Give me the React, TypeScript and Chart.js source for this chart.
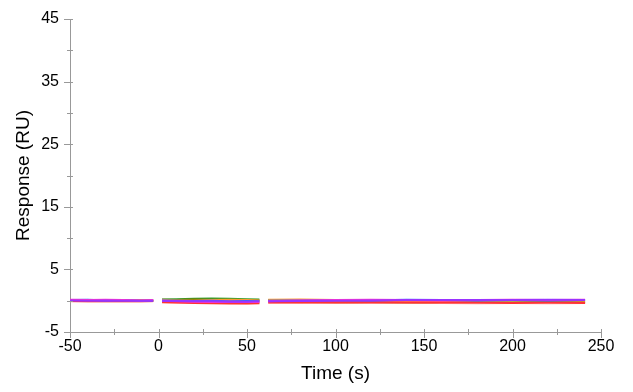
import React, { useEffect, useRef } from "react";
import { Chart, registerables } from "chart.js";

Chart.register(...registerables);

const times = [-50, -40, -30, -20, -10, -3, 0, 2, 10, 20, 30, 40, 50, 57, 60, 62, 80, 100, 120, 140, 160, 180, 200, 220, 241];

const green = [0.05, 0.1, 0.0, 0.05, 0.0, 0.05, null, 0.2, 0.25, 0.3, 0.35, 0.3, 0.25, 0.2, null, 0.1, 0.0, -0.1, -0.15, -0.2, -0.2, -0.25, -0.25, -0.2, -0.1];
const olive = [0.0, 0.0, -0.05, 0.0, -0.05, 0.0, null, 0.15, 0.1, 0.2, 0.15, 0.1, 0.05, 0.05, null, -0.1, -0.2, -0.25, -0.3, -0.3, -0.35, -0.35, -0.35, -0.3, -0.3];
const orange = [0.1, 0.05, 0.1, 0.05, 0.1, 0.05, null, 0.1, 0.05, 0.0, 0.1, 0.15, 0.1, 0.05, null, 0.15, 0.2, 0.1, 0.0, -0.1, -0.2, -0.25, -0.3, -0.3, -0.25];
const salmon = [-0.1, -0.05, -0.1, -0.1, -0.05, -0.1, null, -0.2, -0.3, -0.3, -0.35, -0.35, -0.4, -0.35, null, -0.3, -0.35, -0.3, -0.35, -0.3, -0.35, -0.4, -0.35, -0.4, -0.35];
const red = [-0.05, -0.1, -0.05, -0.1, -0.1, -0.05, null, -0.25, -0.3, -0.35, -0.4, -0.45, -0.45, -0.4, null, -0.3, -0.25, -0.3, -0.25, -0.3, -0.3, -0.3, -0.35, -0.3, -0.35];
const blue = [0.1, 0.15, 0.05, 0.1, 0.0, 0.05, null, 0.05, 0.0, -0.05, 0.0, -0.1, -0.05, -0.1, null, 0.0, 0.05, 0.1, 0.05, 0.15, 0.1, 0.05, 0.1, 0.05, 0.1];
const magenta = [0.15, 0.1, 0.15, 0.1, 0.05, 0.1, null, 0.0, -0.1, -0.15, -0.2, -0.15, -0.2, -0.2, null, -0.1, 0.05, 0.1, 0.15, 0.1, 0.05, 0.1, 0.15, 0.1, 0.15];
const purple = [0.05, 0.0, 0.05, 0.0, 0.0, 0.0, null, -0.05, -0.05, -0.1, -0.1, -0.15, -0.15, -0.1, null, -0.1, -0.05, 0.0, 0.05, 0.1, 0.1, 0.1, 0.1, 0.15, 0.1];

// first entry is drawn on top
const seriesList = [
  { name: "s8", values: purple, color: "#9933ff" },
  { name: "s7", values: magenta, color: "#ff33cc" },
  { name: "s6", values: blue, color: "#3366ff" },
  { name: "s5", values: red, color: "#ff3333" },
  { name: "s4", values: salmon, color: "#ff9999" },
  { name: "s3", values: orange, color: "#ff9933" },
  { name: "s2", values: olive, color: "#7a7a00" },
  { name: "s1", values: green, color: "#33a02c" },
];

const xMajor = [-50, 0, 50, 100, 150, 200, 250];
const xMinor = [-25, 25, 75, 125, 175, 225];
const yMajor = [-5, 5, 15, 25, 35, 45];
const yMinor = [0, 10, 20, 30, 40];

const axisColor = "#999999";

const tickPlugin = {
  id: "customTicks",
  afterDraw(chart: any) {
    const ctx = chart.ctx;
    const xs = chart.scales.x;
    const ys = chart.scales.y;
    const area = chart.chartArea;
    ctx.save();
    ctx.strokeStyle = axisColor;
    ctx.lineWidth = 1;
    ctx.beginPath();
    const axX = area.left;
    const axY = area.bottom;
    yMajor.forEach((v) => {
      const p = Math.round(ys.getPixelForValue(v)) + 0.5;
      ctx.moveTo(axX - 6, p);
      ctx.lineTo(axX + 3, p);
    });
    yMinor.forEach((v) => {
      const p = Math.round(ys.getPixelForValue(v)) + 0.5;
      ctx.moveTo(axX - 3, p);
      ctx.lineTo(axX + 3, p);
    });
    xMajor.forEach((v) => {
      const p = Math.round(xs.getPixelForValue(v)) + 0.5;
      ctx.moveTo(p, axY - 3);
      ctx.lineTo(p, axY + 6);
    });
    xMinor.forEach((v) => {
      const p = Math.round(xs.getPixelForValue(v)) + 0.5;
      ctx.moveTo(p, axY - 3);
      ctx.lineTo(p, axY + 3);
    });
    ctx.stroke();
    ctx.restore();
  },
};

export default function App() {
  const ref = useRef<HTMLCanvasElement | null>(null);
  useEffect(() => {
    if (!ref.current) return;
    const font = "'Liberation Sans', Arial, sans-serif";
    const chart = new Chart(ref.current, {
      type: "line",
      data: {
        datasets: seriesList.map((s) => ({
          label: s.name,
          data: times.map((t, i) => ({ x: t, y: s.values[i] as any })),
          borderColor: s.color,
          backgroundColor: s.color,
          borderWidth: 2,
          pointRadius: 0,
          spanGaps: false,
          tension: 0,
        })),
      },
      options: {
        animation: false,
        responsive: false,
        maintainAspectRatio: false,
        layout: { padding: { top: 11, right: 24, left: 0, bottom: 0 } },
        plugins: { legend: { display: false }, tooltip: { enabled: false } },
        scales: {
          x: {
            type: "linear",
            min: -50,
            max: 250,
            ticks: { stepSize: 50, color: "#000", font: { family: font, size: 16 }, padding: 5, maxRotation: 0 },
            grid: { display: true, drawOnChartArea: false, drawTicks: false },
            border: { color: axisColor, width: 1 },
            title: { display: true, text: "Time (s)", color: "#000", font: { family: font, size: 19 }, padding: { top: 0, bottom: 7 } },
            afterFit: (s: any) => { s.height = 60; s.paddingLeft = 0; s.paddingRight = 0; },
          },
          y: {
            type: "linear",
            min: -5,
            max: 45,
            ticks: { stepSize: 10, color: "#000", font: { family: font, size: 16 }, padding: 11 },
            grid: { display: true, drawOnChartArea: false, drawTicks: false },
            border: { color: axisColor, width: 1 },
            title: { display: true, text: "Response (RU)", color: "#000", font: { family: font, size: 19 }, padding: { top: 4, bottom: 0 } },
            afterFit: (s: any) => { s.width = 62; s.paddingTop = 0; s.paddingBottom = 0; },
          },
        },
      },
      plugins: [tickPlugin],
    });
    return () => chart.destroy();
  }, []);
  return (
    <div style={{ width: 617, height: 384 }}>
      <canvas ref={ref} width={617} height={384} style={{ width: 617, height: 384, display: "block" }} />
    </div>
  );
}
